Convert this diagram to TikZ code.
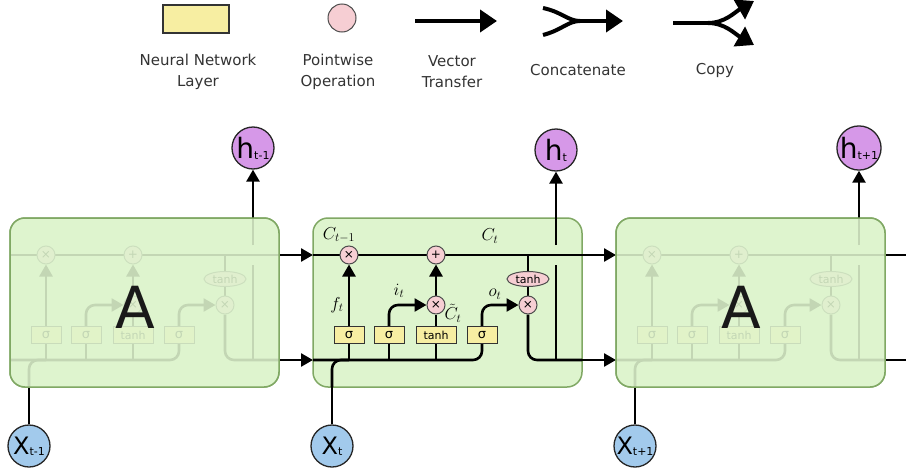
\documentclass[tikz,border=0pt]{standalone}
\usepackage{amsmath}
\usepackage{fontspec}
\setmainfont{DejaVu Sans}
\usetikzlibrary{arrows.meta,calc,shapes.geometric}

\definecolor{cellgreen}{RGB}{222,244,206}
\definecolor{cellline}{RGB}{128,168,100}
\definecolor{gateyellow}{RGB}{247,238,162}
\definecolor{oppink}{RGB}{246,206,211}
\definecolor{outpurple}{RGB}{214,152,232}
\definecolor{inblue}{RGB}{162,202,236}

\pgfdeclarelayer{back}
\pgfdeclarelayer{wires}
\pgfdeclarelayer{fade}
\pgfsetlayers{back,wires,main,fade}

\tikzset{
  wire/.style={line width=2.6pt},
  flow/.style={line width=2.6pt, -{Triangle[length=12pt,width=13pt]}},
  keywire/.style={line width=4pt},
  keyflow/.style={line width=4pt, -{Triangle[length=17pt,width=22pt]}},
  cellbox/.style={draw=cellline, line width=1.5pt, fill=cellgreen, rounded corners=15pt},
  gate/.style={rectangle, draw=black!80, line width=1pt, fill=gateyellow, minimum width=30pt,
    minimum height=17pt, inner sep=0pt, font=\fontsize{13}{13}\selectfont},
  tanhgate/.style={gate, minimum width=40pt, font=\fontsize{11}{11}\selectfont},
  op/.style={circle, draw=black!70, line width=1pt, fill=oppink, minimum size=18pt,
    inner sep=0pt, font=\fontsize{12}{12}\selectfont},
  opell/.style={ellipse, draw=black!70, line width=1pt, fill=oppink, minimum width=42pt,
    minimum height=15pt, inner sep=0pt, font=\fontsize{11}{11}\selectfont},
  hout/.style={circle, draw=black!85, line width=1.3pt, fill=outpurple, minimum size=42pt, inner sep=0pt},
  xin/.style={circle, draw=black!85, line width=1.3pt, fill=inblue, minimum size=42pt, inner sep=0pt},
  keytext/.style={text=black!80, align=center, font=\fontsize{15}{21}\selectfont},
  mathlab/.style={inner sep=0pt, font=\fontsize{17.28}{18}\selectfont},
  bigA/.style={text=black!90, font=\fontsize{58}{58}\selectfont},
}

% label of an outer circle: big letter, small index
\newcommand\circlab[3]{{\fontsize{#1}{#1}\selectfont #2}\raisebox{-1pt}{\fontsize{11}{11}\selectfont #3}}

% inside of one cell, node names get prefix #1
\newcommand\lstmbody[1]{%
  \node[gate] (#1sf) at (349,335) {σ};
  \node[gate] (#1si) at (389,335) {σ};
  \node[tanhgate] (#1tc) at (436,335) {tanh};
  \node[gate] (#1so) at (482,335) {σ};
  \node[op] (#1fx) at (349,255) {×};
  \node[op] (#1ad) at (436,255) {+};
  \node[op] (#1ix) at (436,305) {×};
  \node[op] (#1ox) at (528,305) {×};
  \node[opell] (#1th) at (528,279) {tanh};
  % rails
  \coordinate (#1cl) at (313,255);
  \coordinate (#1cr) at (582,255);
  \coordinate (#1hl) at (313,360);
  \coordinate (#1hr) at (582,360);
  \coordinate (#1xb) at (332,387);
  \coordinate (#1ht) at (556,217);
  \begin{pgfonlayer}{wires}
    \path[draw, wire] (#1cl) -- (#1cr);
    \path[draw, wire, rounded corners=9pt] (#1hl) -| (#1so);
    \path[draw, wire, rounded corners=9pt] (#1xb) |- (#1sf.south |- #1hl);
    \path[draw, wire] (#1sf) -- (#1sf.south |- #1hl);
    \path[draw, wire] (#1si) -- (#1si.south |- #1hl);
    \path[draw, wire] (#1tc) -- (#1tc.south |- #1hl);
    \path[draw, flow] (#1sf) -- (#1fx);
    \path[draw, flow, rounded corners=9pt] (#1si) |- (#1ix);
    \path[draw, wire] (#1tc) -- (#1ix);
    \path[draw, flow] (#1ix) -- (#1ad);
    \path[draw, flow, rounded corners=9pt] (#1so) |- (#1ox);
    \path[draw, wire] (#1th |- #1cl) -- (#1th);
    \path[draw, wire] (#1th) -- (#1ox);
    \path[draw, wire, rounded corners=9pt] (#1ox) |- (#1hr);
    % h leaves the cell, with a gap over the cell state
    \path[draw, wire] (#1ht |- #1hl) -- ($(#1ht |- #1cl)+(0,10)$);
    \path[draw, wire] ($(#1ht |- #1cl)-(0,10)$) -- (#1ht);
  \end{pgfonlayer}
}

\begin{document}
\begin{tikzpicture}[x=1pt, y=-1pt]
  \useasboundingbox (0,0) rectangle (906,474);
  \clip (0,0) rectangle (906,474);

  % key
  \node[gate, minimum width=66pt, minimum height=28pt, line width=1.6pt] (keygate) at (196,19) {};
  \node[op, minimum size=28pt] (keyop) at (342,18) {};
  \coordinate (keyva) at (415,21);
  \coordinate (keyvb) at (497,21);
  \path[draw, keyflow] (keyva) -- (keyvb);
  % concatenate
  \coordinate (keyca) at (543,8);
  \coordinate (keycb) at (543,35);
  \coordinate (keycm) at (580,21);
  \coordinate (keycc) at (623,21);
  \path[draw, keywire] (keyca) .. controls (562,12) and (568,21) .. (keycm);
  \path[draw, keywire] (keycb) .. controls (562,30) and (568,21) .. (keycm);
  \path[draw, keyflow] (keycm) -- (keycc);
  % copy
  \coordinate (keypa) at (673,23);
  \coordinate (keypm) at (708,23);
  \coordinate (keypt) at (754,1);
  \coordinate (keypb) at (754,45);
  \path[draw, keywire] (keypa) -- (keypm);
  \path[draw, keyflow] (keypm) .. controls (725,23) and (735,12) .. (keypt);
  \path[draw, keyflow] (keypm) .. controls (725,23) and (735,34) .. (keypb);
  \node[keytext] (keygatet) at (198,72) {Neural Network\\Layer};
  \node[keytext] (keyopt) at (338,72) {Pointwise\\Operation};
  \node[keytext] (keyvt) at (452,72) {Vector\\Transfer};
  \node[keytext] (keyct) at (578,70) {Concatenate};
  \node[keytext] (keypt2) at (715,70) {Copy};

  % cells
  \begin{pgfonlayer}{back}
    \path[cellbox] (10,218) rectangle (279,387);
    \path[cellbox] (313,218) rectangle (582,387);
    \path[cellbox] (616,218) rectangle (885,387);
  \end{pgfonlayer}
  \begin{scope}[xshift=-303pt]
    \lstmbody{l}
  \end{scope}
  \lstmbody{m}
  \begin{scope}[xshift=303pt]
    \lstmbody{r}
  \end{scope}
  \begin{pgfonlayer}{fade}
    \path[cellbox, fill opacity=0.88] (10,218) rectangle (279,387);
    \path[cellbox, fill opacity=0.88] (616,218) rectangle (885,387);
    \node[bigA] (leftA) at (135,307) {A};
    \node[bigA] (rightA) at (741,307) {A};
  \end{pgfonlayer}

  % labels of the middle cell
  \node[mathlab] (cprev) at (339,235) {$C_{t-1}$};
  \node[mathlab] (cnow) at (490,236) {$C_t$};
  \node[mathlab] (flab) at (337,305) {$f_t$};
  \node[mathlab] (ilab) at (399,291) {$i_t$};
  \node[mathlab] (olab) at (495,294) {$o_t$};
  \node[mathlab] (ctlab) at (453,313) {$\tilde{C}_t$};

  % outputs and inputs
  \node[hout] (hprev) at (253,148) {\circlab{28}{h}{t-1}};
  \node[hout] (hnow) at (556,150) {\circlab{28}{h}{t}};
  \node[hout] (hnext) at (859,148) {\circlab{28}{h}{t+1}};
  \node[xin] (xprev) at (29,446) {\circlab{24}{X}{t-1}};
  \node[xin] (xnow) at (332,446) {\circlab{24}{X}{t}};
  \node[xin] (xnext) at (635,446) {\circlab{24}{X}{t+1}};
  \path[draw, flow] (lht) -- (hprev);
  \path[draw, flow] (mht) -- (hnow);
  \path[draw, flow] (rht) -- (hnext);
  \path[draw, wire] (xprev) -- (lxb);
  \path[draw, wire] (xnow) -- (mxb);
  \path[draw, wire] (xnext) -- (rxb);

  % between the cells
  \path[draw, flow] (lcr) -- (mcl);
  \path[draw, flow] (lhr) -- (mhl);
  \path[draw, flow] (mcr) -- (rcl);
  \path[draw, flow] (mhr) -- (rhl);
  \coordinate (endc) at (918,255);
  \coordinate (endh) at (918,360);
  \path[draw, flow] (rcr) -- (endc);
  \path[draw, flow] (rhr) -- (endh);
\end{tikzpicture}
\end{document}
